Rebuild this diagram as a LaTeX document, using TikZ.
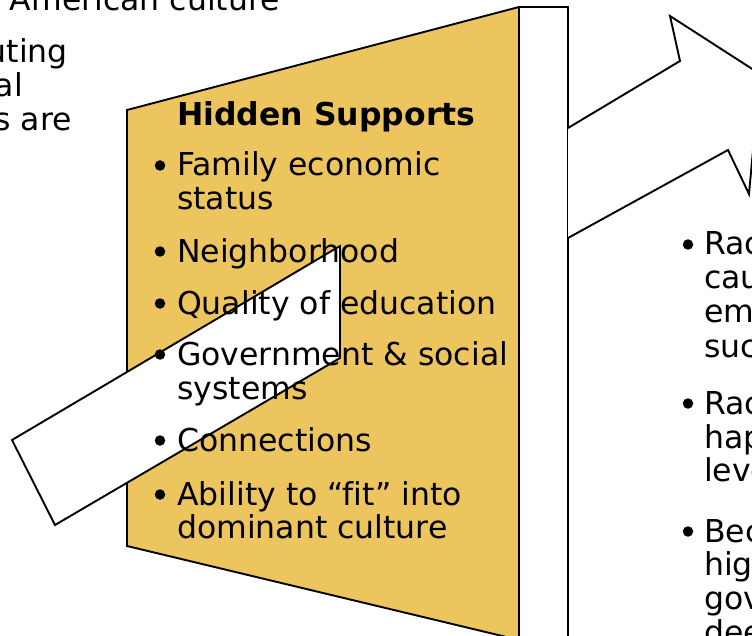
\documentclass[tikz,border=0pt]{standalone}
\usepackage{fontspec}
\setmainfont{DejaVu Sans}[Ligatures=CommonOff]
\usepackage{xcolor}
\usetikzlibrary{backgrounds}
\pgfdeclarelayer{edgelayer}
\pgfdeclarelayer{nodelayer}
\pgfsetlayers{edgelayer,nodelayer,main}
\definecolor{gold}{RGB}{236,197,95}
\tikzstyle{none}=[inner sep=0pt]
\tikzstyle{wall}=[fill=gold, draw=black, line width=1.9]
\tikzstyle{panel}=[fill=white, draw=black, line width=1.9]
\tikzstyle{shaft}=[fill=white, draw=black, line width=1.9, line join=miter]
\tikzstyle{txt}=[inner sep=0pt, anchor=base west, font=\fontsize{31.5}{34}\selectfont]
\tikzstyle{cut}=[inner sep=0pt, anchor=base east, font=\fontsize{31.5}{34}\selectfont]
\tikzstyle{title}=[inner sep=0pt, anchor=base west, font=\fontsize{31.5}{34}\selectfont\bfseries]
\tikzstyle{dot}=[circle, fill=black, inner sep=0pt, minimum size=10.5]

\begin{document}
\begin{tikzpicture}[x=1pt, y=-1pt]
	\useasboundingbox (0,0) rectangle (752,636);
	\begin{pgfonlayer}{nodelayer}
		\clip (0,0) rectangle (752,636);
		% corners
		\node [style=none] (1) at (127, 110) {};
		\node [style=none] (2) at (519, 7) {};
		\node [style=none] (3) at (519, 640) {};
		\node [style=none] (4) at (127, 546) {};
		\node [style=none] (5) at (568, 7) {};
		\node [style=none] (6) at (568, 640) {};
		\node [style=none] (9) at (12, 440) {};
		\node [style=none] (10) at (340, 246) {};
		\node [style=none] (11) at (340, 358) {};
		\node [style=none] (12) at (55, 525) {};
		\node [style=none] (13) at (568, 128) {};
		\node [style=none] (14) at (680, 61) {};
		\node [style=none] (15) at (670, 16) {};
		\node [style=none] (16) at (760, 74) {};
		\node [style=none] (17) at (749, 194) {};
		\node [style=none] (18) at (728, 150) {};
		\node [style=none] (19) at (568, 238) {};
		% left column, cut off
		\node [style=cut] (20) at (280, 11) {American culture};
		\node [style=cut] (21) at (68, 63) {uting};
		\node [style=cut] (22) at (23, 97) {al};
		\node [style=cut] (23) at (72, 131) {s are};
		% hidden supports
		\node [style=title] (30) at (177, 126) {Hidden Supports};
		\node [style=dot] (31) at (160, 165.5) {};
		\node [style=txt] (32) at (177, 176) {Family economic};
		\node [style=txt] (33) at (177, 210) {status};
		\node [style=dot] (34) at (160, 251.5) {};
		\node [style=txt] (35) at (177, 262) {Neighborhood};
		\node [style=dot] (36) at (160, 303.5) {};
		\node [style=txt] (37) at (177, 314) {Quality of education};
		\node [style=dot] (38) at (160, 354.5) {};
		\node [style=txt] (39) at (177, 365) {Government \& social};
		\node [style=txt] (40) at (177, 399) {systems};
		\node [style=dot] (41) at (160, 440.5) {};
		\node [style=txt] (42) at (177, 451) {Connections};
		\node [style=dot] (43) at (160, 494.5) {};
		\node [style=txt] (44) at (177, 505) {Ability to “fit” into};
		\node [style=txt] (45) at (177, 538) {dominant culture};
		% right column, cut off
		\node [style=dot] (50) at (688, 244.5) {};
		\node [style=txt] (51) at (704, 255) {Rac};
		\node [style=txt] (52) at (704, 289) {cau};
		\node [style=txt] (53) at (704, 323) {em};
		\node [style=txt] (54) at (704, 357) {suc};
		\node [style=dot] (55) at (688, 403.5) {};
		\node [style=txt] (56) at (704, 414) {Rac};
		\node [style=txt] (57) at (704, 448) {hap};
		\node [style=txt] (58) at (704, 481) {leve};
		\node [style=dot] (59) at (688, 531.5) {};
		\node [style=txt] (60) at (704, 542) {Bec};
		\node [style=txt] (61) at (704, 575) {hig};
		\node [style=txt] (62) at (704, 609) {gov};
		\node [style=txt] (63) at (704, 643) {dee};
	\end{pgfonlayer}
	\begin{pgfonlayer}{edgelayer}
		\clip (0,0) rectangle (752,636);
		\draw [style=wall] (1.center) -- (2.center) -- (3.center) -- (4.center) -- cycle;
		\draw [style=panel] (2.center) -- (5.center) -- (6.center) -- (3.center) -- cycle;
		\draw [style=shaft] (9.center) -- (10.center) -- (11.center) -- (12.center) -- cycle;
		\draw [style=shaft] (13.center) -- (14.center) -- (15.center) -- (16.center) -- (17.center) -- (18.center) -- (19.center);
	\end{pgfonlayer}
\end{tikzpicture}
\end{document}
